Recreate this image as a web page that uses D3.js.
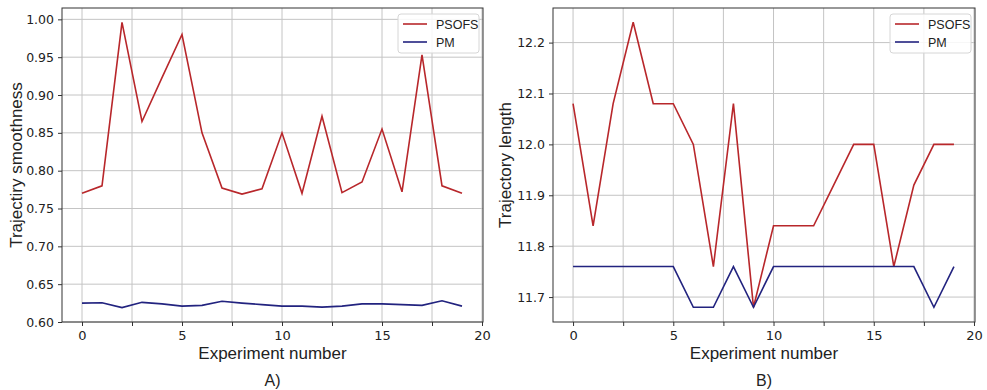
<!DOCTYPE html>
<html>
<head>
<meta charset="utf-8">
<script src="https://cdn.jsdelivr.net/npm/d3@7"></script>
<style>
  body { margin: 0; background: #fff; }
  svg text { font-family: "DejaVu Sans", sans-serif; fill: #222; }
  svg text.lbl { font-family: "Liberation Sans", Arial, sans-serif; }
  .grid line { stroke: #c4c4c4; stroke-width: 1; }
  .axis path, .axis line { stroke: #333; }
</style>
</head>
<body>
<svg id="chart" width="987" height="390"></svg>
<script>
// experiment index 0..19
var experiments = d3.range(0, 20);

// A) trajectory smoothness
var smoothPSOFS = [0.770, 0.780, 0.996, 0.865, 0.923, 0.980, 0.850, 0.777, 0.769, 0.776,
                   0.850, 0.770, 0.872, 0.771, 0.785, 0.855, 0.772, 0.953, 0.780, 0.770];
var smoothPM = [0.625, 0.6255, 0.619, 0.626, 0.624, 0.621, 0.622, 0.6275, 0.625, 0.623,
                0.621, 0.621, 0.6196, 0.621, 0.624, 0.624, 0.623, 0.622, 0.628, 0.621];

// B) trajectory length
var lengthPSOFS = [12.08, 11.84, 12.08, 12.24, 12.08, 12.08, 12.00, 11.76, 12.08, 11.68,
                   11.84, 11.84, 11.84, 11.92, 12.00, 12.00, 11.76, 11.92, 12.00, 12.00];
var lengthPM = [11.76, 11.76, 11.76, 11.76, 11.76, 11.76, 11.68, 11.68, 11.76, 11.68,
                11.76, 11.76, 11.76, 11.76, 11.76, 11.76, 11.76, 11.76, 11.68, 11.76];

var xTicks = [0, 2.5, 5, 7.5, 10, 12.5, 15, 17.5, 20];
var smoothTicks = [0.60, 0.65, 0.70, 0.75, 0.80, 0.85, 0.90, 0.95, 1.00];
var lengthTicks = [11.7, 11.8, 11.9, 12.0, 12.1, 12.2];
var seriesNames = ['PSOFS', 'PM'];
var colors = ['#b8272b', '#22237f'];

var svg = d3.select('#chart');

function drawPanel(opts) {
  var g = svg.append('g')
    .attr('transform', 'translate(' + opts.left + ',' + opts.top + ')');
  var w = opts.width, h = opts.height;

  var x = d3.scaleLinear().domain([-1, 20.05]).range([0, w]);
  var y = d3.scaleLinear().domain(opts.yDomain).range([h, 0]);

  // grid
  g.append('g').attr('class', 'grid')
    .selectAll('line.v').data(xTicks).enter().append('line')
    .attr('x1', d => x(d)).attr('x2', d => x(d))
    .attr('y1', 0).attr('y2', h);
  g.append('g').attr('class', 'grid')
    .selectAll('line.h').data(opts.yTicks).enter().append('line')
    .attr('x1', 0).attr('x2', w)
    .attr('y1', d => y(d)).attr('y2', d => y(d));

  // axes
  var xAxis = d3.axisBottom(x).tickValues(xTicks).tickSize(4).tickPadding(5)
    .tickFormat(d => d % 5 === 0 ? d3.format('d')(d) : '');
  g.append('g').attr('class', 'axis')
    .attr('transform', 'translate(0,' + h + ')')
    .call(xAxis)
    .call(s => s.select('.domain').remove())
    .selectAll('text').style('font-size', '13px').attr('fill', '#333');

  var yAxis = d3.axisLeft(y).tickValues(opts.yTicks).tickSize(4).tickPadding(4)
    .tickFormat(d3.format(opts.yFormat));
  g.append('g').attr('class', 'axis')
    .call(yAxis)
    .call(s => s.select('.domain').remove())
    .selectAll('text').style('font-size', '12.5px').attr('fill', '#333');

  // frame
  g.append('rect').attr('width', w).attr('height', h)
    .attr('fill', 'none').attr('stroke', '#333').attr('stroke-width', 1);

  // lines
  var line = d3.line()
    .x((d, i) => x(experiments[i]))
    .y(d => y(d));
  opts.series.forEach(function(s, i) {
    g.append('path').datum(s)
      .attr('fill', 'none')
      .attr('stroke', colors[i])
      .attr('stroke-width', 1.6)
      .attr('stroke-linejoin', 'miter')
      .attr('d', line);
  });

  // legend
  var lg = g.append('g').attr('transform', 'translate(' + (w - 85) + ',6)');
  lg.append('rect').attr('width', 81).attr('height', 39).attr('rx', 3)
    .attr('fill', '#fff').attr('fill-opacity', 0.85)
    .attr('stroke', '#d6d6d6');
  seriesNames.forEach(function(n, i) {
    var yy = 10 + i * 18;
    lg.append('line').attr('x1', 5).attr('x2', 29).attr('y1', yy).attr('y2', yy)
      .attr('stroke', colors[i]).attr('stroke-width', 1.6);
    lg.append('text').attr('class', 'lbl').attr('x', 38).attr('y', yy + 4.5)
      .style('font-size', '12.5px').text(n);
  });

  // labels
  g.append('text').attr('class', 'lbl')
    .attr('x', w / 2).attr('y', h + 37)
    .attr('text-anchor', 'middle')
    .style('font-size', '17px')
    .text('Experiment number');
  g.append('text').attr('class', 'lbl')
    .attr('x', w / 2).attr('y', h + 64)
    .attr('text-anchor', 'middle')
    .style('font-size', '16px')
    .text(opts.letter);
  g.append('text').attr('class', 'lbl')
    .attr('transform', 'rotate(-90)')
    .attr('x', -h / 2).attr('y', opts.yLabelX)
    .attr('text-anchor', 'middle')
    .style('font-size', '17px')
    .text(opts.yLabel);
}

drawPanel({
  left: 62, top: 8, width: 421, height: 314,
  yDomain: [0.60, 1.015], yTicks: smoothTicks, yFormat: '.2f',
  series: [smoothPSOFS, smoothPM],
  yLabel: 'Trajectiry smoothness', yLabelX: -40, letter: 'A)'
});

drawPanel({
  left: 553, top: 8, width: 422, height: 314,
  yDomain: [11.651, 12.268], yTicks: lengthTicks, yFormat: '.1f',
  series: [lengthPSOFS, lengthPM],
  yLabel: 'Trajectory length', yLabelX: -42, letter: 'B)'
});
</script>
</body>
</html>
